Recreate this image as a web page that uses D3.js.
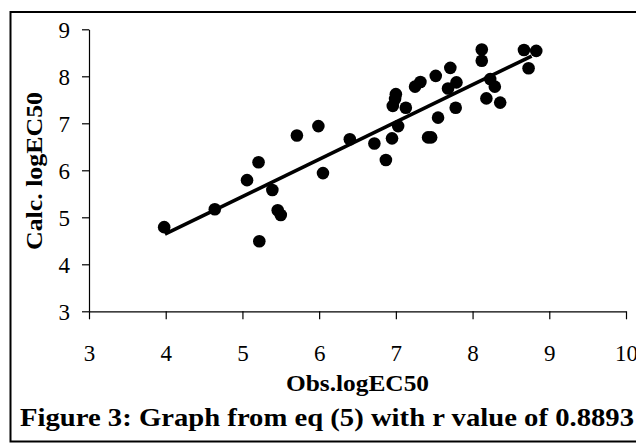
<!DOCTYPE html>
<html>
<head>
<meta charset="utf-8">
<script src="https://cdn.jsdelivr.net/npm/d3@7"></script>
<style>
  html, body { margin: 0; padding: 0; background: #fff; }
  svg { display: block; }
  text { font-family: "Liberation Serif", "Times New Roman", serif; fill: #000; }
</style>
</head>
<body>
<svg id="chart" width="636" height="444"></svg>
<script>
// Observed logEC50 (x) and calculated logEC50 (y)
const obsValues = [3.98, 4.64, 5.06, 5.21, 5.22, 5.39, 5.46, 5.50, 5.71, 5.99, 6.05, 6.40, 6.72, 6.87,
  6.95, 7.03, 6.96, 6.99, 7.00, 7.13, 7.25, 7.32, 7.42, 7.46, 7.55, 7.52, 7.68, 7.71, 7.78, 7.79,
  8.12, 8.12, 8.18, 8.23, 8.29, 8.36, 8.67, 8.83, 8.73];
const calcValues = [4.79, 5.17, 5.79, 6.17, 4.49, 5.58, 5.15, 5.05, 6.74, 6.94, 5.94, 6.66, 6.57, 6.22,
  6.68, 6.94, 7.37, 7.52, 7.62, 7.33, 7.78, 7.88, 6.70, 6.70, 7.12, 8.01, 7.74, 8.18, 7.33, 7.87,
  8.57, 8.33, 7.53, 7.94, 7.78, 7.44, 8.56, 8.54, 8.17];
// Regression line end points
const trendX = [3.99, 8.77];
const trendY = [4.64, 8.43];
// Axis ticks
const xTicks = [3, 4, 5, 6, 7, 8, 9, 10];
const yTicks = [3, 4, 5, 6, 7, 8, 9];
const xTitle = "Obs.logEC50";
const yTitle = "Calc. logEC50";
const caption = "Figure 3: Graph from eq (5) with r value of 0.8893";

const FONT = '"Liberation Serif", "Times New Roman", serif';
const svg = d3.select("#chart");

// Outer frame
svg.append("rect")
  .attr("x", 10.5).attr("y", 12).attr("width", 640).attr("height", 429.5)
  .attr("fill", "none").attr("stroke", "#000").attr("stroke-width", 2);

const x = d3.scaleLinear().domain([3, 10]).range([89, 626]);
const y = d3.scaleLinear().domain([3, 9]).range([311.3, 29.3]);

const xAxis = svg.append("g")
  .attr("transform", `translate(0,${y(3)})`)
  .call(d3.axisBottom(x).tickValues(xTicks).tickFormat(d3.format("d")).tickSize(8).tickSizeOuter(0));
xAxis.selectAll("text")
  .attr("y", 49.5).attr("dy", "0")
  .style("font-size", "23px");

const yAxis = svg.append("g")
  .attr("transform", `translate(${x(3)},0)`)
  .call(d3.axisLeft(y).tickValues(yTicks).tickFormat(d3.format("d")).tickSize(7).tickSizeOuter(0));
yAxis.selectAll("text")
  .attr("x", -19).attr("dy", "0.34em")
  .style("font-size", "23px");

[xAxis, yAxis].forEach(g => {
  g.attr("font-family", FONT);
  g.select(".domain").attr("stroke", "#000").attr("stroke-width", 1.2);
  g.selectAll(".tick line").attr("stroke", "#000").attr("stroke-width", 1.2);
  g.selectAll("text").style("font-family", FONT).attr("fill", "#000");
});

// Trend line
svg.append("line")
  .attr("x1", x(trendX[0])).attr("y1", y(trendY[0]))
  .attr("x2", x(trendX[1])).attr("y2", y(trendY[1]))
  .attr("stroke", "#000").attr("stroke-width", 3.6);

// Points
const pts = obsValues.map((v, i) => ({ x: v, y: calcValues[i] }));
svg.append("g").selectAll("circle").data(pts).join("circle")
  .attr("cx", d => x(d.x)).attr("cy", d => y(d.y)).attr("r", 6.3)
  .attr("fill", "#000");

// Axis titles
svg.append("text")
  .attr("x", 357.5).attr("y", 391)
  .attr("text-anchor", "middle")
  .attr("textLength", 143).attr("lengthAdjust", "spacingAndGlyphs")
  .style("font-family", FONT)
  .style("font-size", "23px").style("font-weight", "bold")
  .text(xTitle);

svg.append("text")
  .attr("transform", "translate(42,171) rotate(-90)")
  .attr("text-anchor", "middle")
  .attr("textLength", 158).attr("lengthAdjust", "spacingAndGlyphs")
  .style("font-family", FONT)
  .style("font-size", "23px").style("font-weight", "bold")
  .text(yTitle);

// Caption
svg.append("text")
  .attr("x", 20).attr("y", 426)
  .attr("textLength", 614).attr("lengthAdjust", "spacingAndGlyphs")
  .style("font-family", FONT)
  .style("font-size", "26px").style("font-weight", "bold")
  .text(caption);
</script>
</body>
</html>
